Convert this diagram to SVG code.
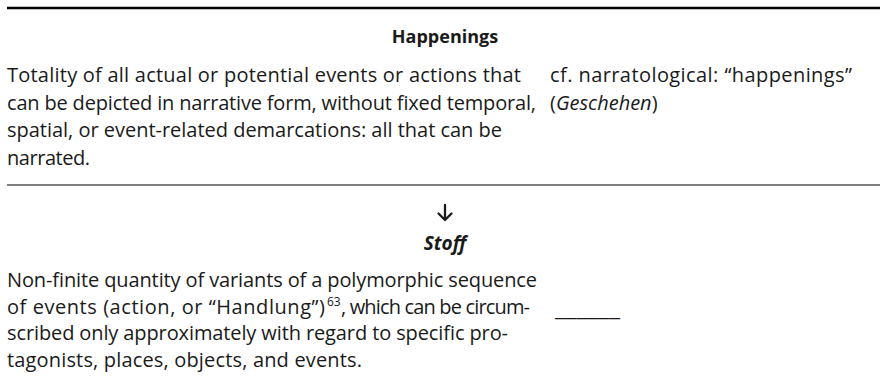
<svg xmlns="http://www.w3.org/2000/svg" width="880" height="388" viewBox="0 0 880 388">
<style>
.t{font-family:"Open Sans","Noto Sans","Liberation Sans",sans-serif;font-size:20px;fill:#1a1a1a}
.h{font-weight:bold;text-anchor:middle;font-size:18px}
.i{font-style:italic}
.sup{font-size:12px}
.rule{stroke:#000}
.arrow{fill:none;stroke:#1a1a1a;stroke-width:2.3;stroke-linecap:round;stroke-linejoin:round}
</style>
<rect width="880" height="388" fill="#fff"/>
<g id="rules">
<line class="rule" x1="7" y1="8" x2="880" y2="8" stroke-width="2.7"/>
<line class="rule" x1="7" y1="185" x2="880" y2="185" stroke-width="1.2"/>
</g>
<g id="happenings-title"><text class="t h" x="445" y="43">Happenings</text></g>
<g id="happenings-def">
<text class="t" x="7" y="82" textLength="514">Totality of all actual or potential events or actions that</text>
<text class="t" x="7" y="109.5" textLength="529">can be depicted in narrative form, without fixed temporal,</text>
<text class="t" x="7" y="137" textLength="495">spatial, or event-related demarcations: all that can be</text>
<text class="t" x="7" y="164.5" textLength="83">narrated.</text>
</g>
<g id="happenings-note">
<text class="t" x="550" y="82" textLength="302">cf. narratological: “happenings”</text>
<text class="t" x="550" y="109.5">(<tspan class="i">Geschehen</tspan>)</text>
</g>
<g id="connectors">
<path class="arrow" d="M445,205 V220 M438.5,213.5 L445,220 L451.5,213.5"/>
</g>
<g id="stoff-title"><text class="t h i" x="445" y="250" style="font-size:19px">Stoff</text></g>
<g id="stoff-def">
<text class="t" x="7" y="287" textLength="530">Non-finite quantity of variants of a polymorphic sequence</text>
<text class="t" x="7" y="313.5" textLength="318">of events (action, or “Handlung”)</text>
<text class="t sup" x="327" y="306">63</text>
<text class="t" x="341" y="313.5" textLength="189">, which can be circum-</text>
<text class="t" x="7" y="340" textLength="501">scribed only approximately with regard to specific pro-</text>
<text class="t" x="7" y="366.5" textLength="355">tagonists, places, objects, and events.</text>
</g>
<g id="stoff-note"><text class="t" x="555" y="316" textLength="65" lengthAdjust="spacingAndGlyphs">______</text></g>
</svg>
